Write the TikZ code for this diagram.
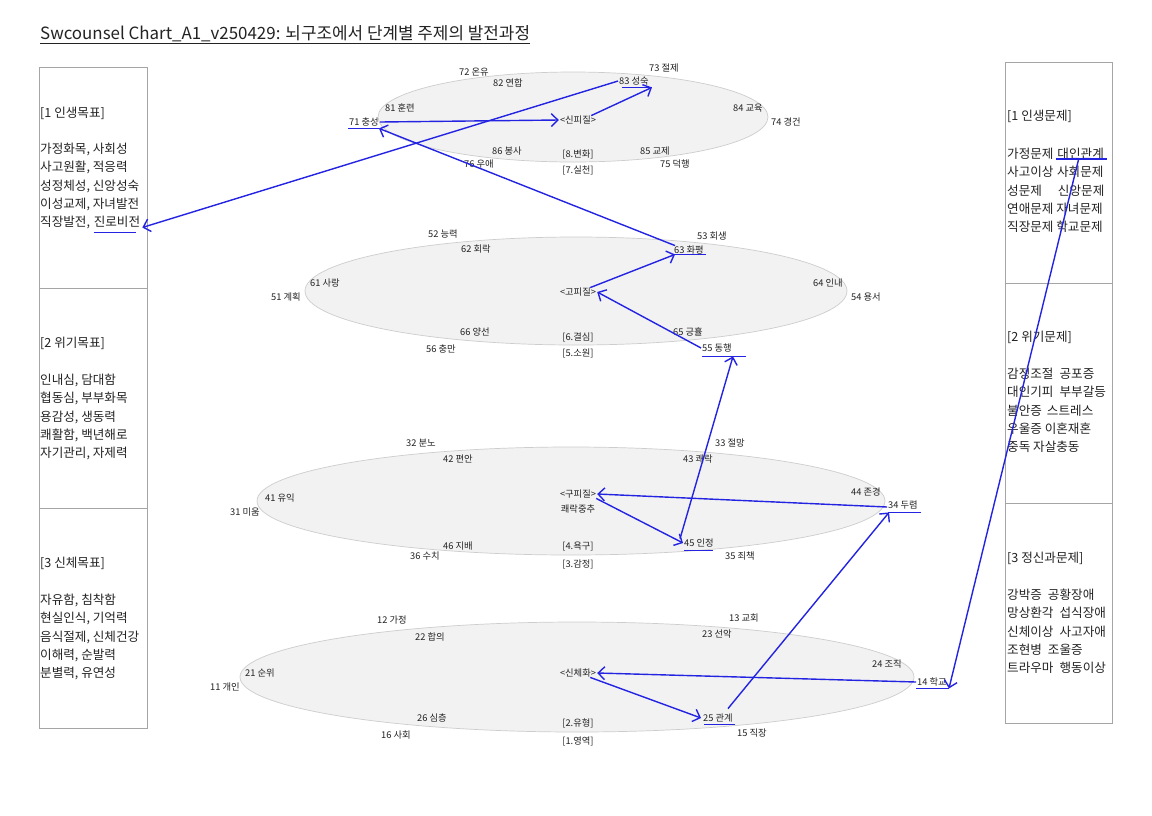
\documentclass[tikz,border=0pt]{standalone}
\usepackage{fontspec}
\setmainfont{Noto Sans CJK KR}
\usetikzlibrary{arrows.meta,calc}
\definecolor{penblue}{RGB}{35,35,225}
\definecolor{boxline}{RGB}{165,165,165}
\definecolor{ellfill}{RGB}{242,242,242}
\definecolor{elldraw}{RGB}{205,205,205}
\definecolor{ink}{RGB}{35,35,35}
\tikzset{
  lbl/.style={font=\fontsize{9.3}{11}\selectfont, inner sep=1pt, text=ink},
  btxt/.style={font=\fontsize{12.6}{15}\selectfont, inner sep=0pt, anchor=base west, text=ink},
  panel/.style={draw=boxline, line width=0.8pt},
  zone/.style={draw=elldraw, fill=ellfill, line width=0.7pt},
  pen/.style={draw=penblue, line width=1.4pt},
  arr/.style={pen, -{Straight Barb[length=6.5pt,width=13pt,line width=1.4pt]}},
}
\begin{document}
\begin{tikzpicture}[x=1pt,y=-1pt]
\useasboundingbox (0,0) rectangle (1152,815);
\fill[white] (0,0) rectangle (1152,815);

% title
\node[font=\fontsize{16.9}{20}\selectfont, inner sep=0pt, anchor=base west, text=ink] (title) at (40,39) {Swcounsel Chart\_A1\_v250429: 뇌구조에서 단계별 주제의 발전과정};
\draw[ink, line width=0.8pt] ($(title.base west)+(0,4)$) -- ($(title.base east)+(0,4)$);

% panels
\draw[panel] (39,67) rectangle (147,288);
\draw[panel] (39,288) rectangle (147,508);
\draw[panel] (39,508) rectangle (147,728);
\draw[panel] (1005,62) rectangle (1112,283);
\draw[panel] (1005,283) rectangle (1112,503);
\draw[panel] (1005,503) rectangle (1112,723);

% left panel texts
\node[btxt] (L1h) at (40,117.5) {[1 인생목표]};
\foreach \t [count=\i] in {{가정화목, 사회성},{사고원활, 적응력},{성정체성, 신앙성숙},{이성교제, 자녀발전}}
  \node[btxt] (L1-\i) at (40,{153.5+18.25*(\i-1)}) {\t};
\node[btxt] (L1-5) at (40,226.5) {직장발전,};
\node[btxt] (jinro) at ($(L1-5.base east)+(3.3,0)$) {진로비전};

\node[btxt] (L2h) at (40,347.5) {[2 위기목표]};
\foreach \t [count=\i] in {{인내심, 담대함},{협동심, 부부화목},{용감성, 생동력},{쾌활함, 백년해로},{자기관리, 자제력}}
  \node[btxt] (L2-\i) at (40,{384.5+18.25*(\i-1)}) {\t};

\node[btxt] (L3h) at (40,567.5) {[3 신체목표]};
\foreach \t [count=\i] in {{자유함, 침착함},{현실인식, 기억력},{음식절제, 신체건강},{이해력, 순발력},{분별력, 유연성}}
  \node[btxt] (L3-\i) at (40,{604.5+18.25*(\i-1)}) {\t};

% right panel texts
\node[btxt] (R1h) at (1007,120.5) {[1 인생문제]};
\node[btxt] (R1-1) at (1007,158.5) {가정문제};
\node[btxt] (dain) at ($(R1-1.base east)+(3.5,0)$) {대인관계};
\node[btxt] (R1-2) at (1007,176.75) {사고이상\hspace{3.5pt}사회문제};
\node[btxt] (R1-3) at (1007,195) {성문제\hspace{16pt}신앙문제};
\node[btxt] (R1-4) at (1007,213.25) {연애문제 자녀문제};
\node[btxt] (R1-5) at (1007,231.5) {직장문제 학교문제};

\node[btxt] (R2h) at (1007,341.5) {[2 위기문제]};
\foreach \t [count=\i] in {{감정조절\hspace{6pt}공포증},{대인기피\hspace{6pt}부부갈등},{불안증\hspace{5pt}스트레스},{우울증 이혼재혼},{중독 자살충동}}
  \node[btxt] (R2-\i) at (1007,{378.5+18.25*(\i-1)}) {\t};

\node[btxt] (R3h) at (1007,562.5) {[3 정신과문제]};
\foreach \t [count=\i] in {{강박증\hspace{6pt}공황장애},{망상환각\hspace{6pt}섭식장애},{신체이상\hspace{6pt}사고자애},{조현병\hspace{6pt}조울증},{트라우마\hspace{6pt}행동이상}}
  \node[btxt] (R3-\i) at (1007,{599.5+18.25*(\i-1)}) {\t};

% ellipses
\draw[zone] (573,117) ellipse [x radius=195, y radius=45];
\draw[zone] (576,291) ellipse [x radius=271, y radius=54];
\draw[zone] (571,501) ellipse [x radius=314, y radius=54];
\draw[zone] (577,677) ellipse [x radius=337, y radius=55];

% level 7/8
\node[lbl] (n72) at (474,72) {72 온유};
\node[lbl] (n82) at (508,83) {82 연합};
\node[lbl] (n73) at (664,68) {73 절제};
\node[lbl] (n83) at (634,81) {83 성숙};
\node[lbl] (n81) at (400,108) {81 훈련};
\node[lbl] (n84) at (748,108) {84 교육};
\node[lbl] (n71) at (364,122) {71 충성};
\node[lbl] (sin8) at (578,120) {<신피질>};
\node[lbl] (n74) at (786,122) {74 경건};
\node[lbl] (n86) at (507,151) {86 봉사};
\node[lbl] (st8) at (578,154) {[8.변화]};
\node[lbl] (n85) at (655,151) {85 교제};
\node[lbl] (n76) at (479,164) {76 우애};
\node[lbl] (st7) at (578,170) {[7.실천]};
\node[lbl] (n75) at (675,164) {75 덕행};

% level 5/6
\node[lbl] (n52) at (443,234) {52 능력};
\node[lbl] (n53) at (712,236) {53 회생};
\node[lbl] (n62) at (476,249) {62 회락};
\node[lbl] (n63) at (689,250) {63 화평};
\node[lbl] (n61) at (325,283) {61 사랑};
\node[lbl] (n64) at (828,283) {64 인내};
\node[lbl] (n51) at (286,297) {51 계획};
\node[lbl] (go6) at (578,292) {<고피질>};
\node[lbl] (n54) at (866,297) {54 용서};
\node[lbl] (n66) at (475,332) {66 양선};
\node[lbl] (st6) at (578,337) {[6.결심]};
\node[lbl] (n65) at (688,332) {65 긍휼};
\node[lbl] (n56) at (441,349) {56 충만};
\node[lbl] (st5) at (578,353) {[5.소원]};
\node[lbl] (n55) at (717,348) {55 동행};

% level 3/4
\node[lbl] (n32) at (421,443) {32 분노};
\node[lbl] (n33) at (730,443) {33 절망};
\node[lbl] (n42) at (458,459) {42 편안};
\node[lbl] (n43) at (698,459) {43 쾌락};
\node[lbl] (n41) at (280,498) {41 유익};
\node[lbl] (n44) at (866,492) {44 존경};
\node[lbl] (n31) at (245,512) {31 미움};
\node[lbl] (gu4) at (578,494) {<구피질>};
\node[lbl] (gu4b) at (578,509) {쾌락중추};
\node[lbl] (n34) at (903,505) {34 두렴};
\node[lbl] (n46) at (458,546) {46 지배};
\node[lbl] (st4) at (578,547) {[4.욕구]};
\node[lbl] (n45) at (699,543) {45 인정};
\node[lbl] (n36) at (425,556) {36 수치};
\node[lbl] (n35) at (740,556) {35 죄책};
\node[lbl] (st3) at (578,564) {[3.감정]};

% level 1/2
\node[lbl] (n12) at (392,620) {12 가정};
\node[lbl] (n13) at (744,618) {13 교회};
\node[lbl] (n22) at (430,637) {22 합의};
\node[lbl] (n23) at (717,634) {23 선악};
\node[lbl] (n21) at (260,673) {21 순위};
\node[lbl] (n24) at (887,664) {24 조직};
\node[lbl] (n11) at (225,687) {11 개인};
\node[lbl] (sc2) at (578,673) {<신체화>};
\node[lbl] (n14) at (932,682) {14 학교};
\node[lbl] (n26) at (432,718) {26 심층};
\node[lbl] (st2) at (578,723) {[2.유형]};
\node[lbl] (n25) at (718,718) {25 관계};
\node[lbl] (n16) at (396,735) {16 사회};
\node[lbl] (n15) at (752,733) {15 직장};
\node[lbl] (st1) at (578,741) {[1.영역]};

% underlines
\draw[pen] ($(jinro.base west)+(0,6)$) -- ($(jinro.base east)+(-4,6)$);
\draw[pen] ($(dain.base west)+(-1,0.5)$) -- ($(dain.base east)+(3,0.5)$);
\draw[pen] ($(n71.south west)+(0,1)$) -- ($(n71.south east)+(-1,1)$);
\draw[pen] ($(n83.south west)+(4,1)$) -- ($(n83.south east)+(2,1)$);
\draw[pen] ($(n63.south west)+(1,-1)$) -- ($(n63.south east)+(1,-1)$);
\draw[pen] ($(n55.south west)+(1,3)$) -- ($(n55.south east)+(13,3)$);
\draw[pen] ($(n45.south west)+(1,2)$) -- ($(n45.south east)+(-2,2)$);
\draw[pen] ($(n34.south west)+(1,2)$) -- ($(n34.south east)+(2,2)$);
\draw[pen] ($(n25.south west)+(2,1)$) -- ($(n25.south east)+(1,1)$);
\draw[pen] ($(n14.south west)+(0,1)$) -- ($(n14.south east)+(1,1)$);

% connectors
\draw[arr] (n83.west) -- ($(jinro.base east)+(2,1)$);
\draw[arr] ($(sin8.north east)+(-6,1)$) -- ($(n83.south east)+(2,1)$);
\draw[arr] (n71.east) -- (sin8.west);
\draw[arr] ($(n63.north west)+(2,1)$) -- ($(n71.south east)+(-1,1)$);
\draw[arr] ($(go6.north east)+(-7,1)$) -- ($(n63.south west)+(2,-1)$);
\draw[arr] (n55.west) -- (go6.east);
\draw[arr] ($(n45.north west)+(-3,1)$) -- ($(n55.south)+(16,3)$);
\draw[arr] ($(gu4.south east)+(-1,-1)$) -- (n45.west);
\draw[arr] ($(n34.west)+(0,2)$) -- (gu4.east);
\draw[arr] ($(n25.north east)+(-6,-4)$) -- ($(n34.south west)+(2,2)$);
\draw[arr] ($(sc2.south east)+(-7,-1)$) -- ($(n25.west)+(-1,0)$);
\draw[arr] (n14.west) -- (sc2.east);
\draw[arr] ($(dain.base)+(-2,0.5)$) -- ($(n14.south east)+(1,1)$);
\end{tikzpicture}
\end{document}
